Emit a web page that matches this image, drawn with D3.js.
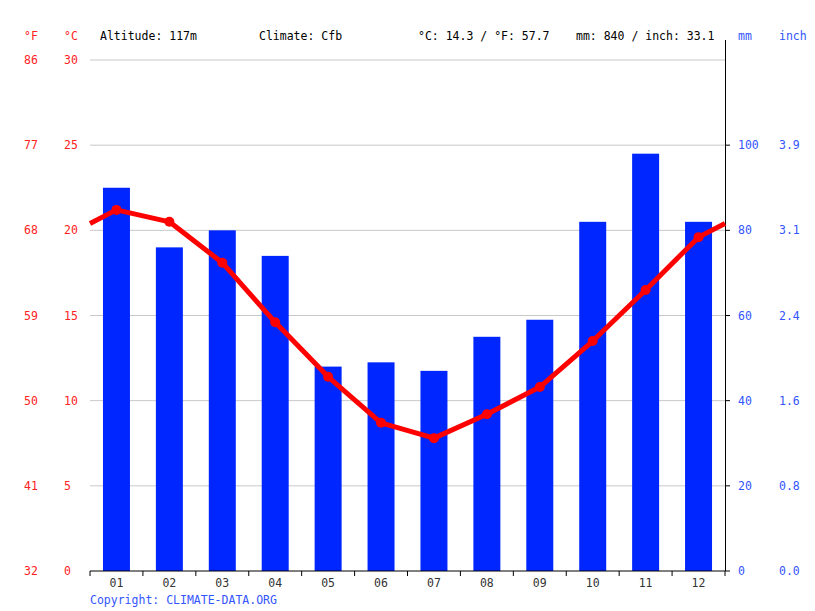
<!DOCTYPE html>
<html><head><meta charset="utf-8">
<script src="https://cdn.jsdelivr.net/npm/d3@7"></script>
<style>body{margin:0;background:#fff}svg{display:block}text{font-family:"DejaVu Sans Mono",monospace;font-size:11.5px}</style>
</head><body><svg id="c" width="815" height="611"></svg>
<script>
const months = ["01","02","03","04","05","06","07","08","09","10","11","12"];
const precipMM = [90,76,80,74,48,49,47,55,59,82,98,82];
const tempC = [21.2,20.5,18.1,14.6,11.4,8.7,7.8,9.2,10.8,13.5,16.5,19.6];
const tempTicksC = [0,5,10,15,20,25,30];
const tempTicksF = ["32","41","50","59","68","77","86"];
const precipTicks = [0,20,40,60,80,100];
const inchTicks = ["0.0","0.8","1.6","2.4","3.1","3.9"];

const svg = d3.select("#c");
const L=90,R=725,T=60,B=571;
const x = d3.scaleBand().domain(months).range([L,R]).paddingInner(0.49).paddingOuter(0.245);
const xc = d => x(d)+x.bandwidth()/2;
const yT = d3.scaleLinear().domain([0,30]).range([B,T]);
const yP = d3.scaleLinear().domain([0,120]).range([B,T]);

// grid
svg.append("g").selectAll("line").data(tempTicksC.slice(1)).join("line")
 .attr("x1",L).attr("x2",R).attr("y1",d=>yT(d)).attr("y2",d=>yT(d))
 .attr("stroke","#c8c8c8").attr("stroke-width",1);

// bars
svg.append("g").selectAll("rect").data(precipMM).join("rect")
 .attr("x",(d,i)=>x(months[i])).attr("width",x.bandwidth())
 .attr("y",d=>yP(d)).attr("height",d=>B-yP(d)).attr("fill","#0026ff");

// bottom axis
const xa = svg.append("g").attr("transform",`translate(0,${B})`);
xa.append("line").attr("x1",L).attr("x2",R).attr("stroke","#000");
const step=(R-L)/12;
xa.selectAll(".tk").data(d3.range(13)).join("line").attr("class","tk")
 .attr("x1",i=>L+i*step).attr("x2",i=>L+i*step).attr("y1",0).attr("y2",5).attr("stroke","#000");
xa.selectAll("text").data(months).join("text").attr("x",xc).attr("y",16)
 .attr("text-anchor","middle").attr("fill","#333").text(d=>d);

// right axis
const ra = svg.append("g");
ra.append("line").attr("x1",R+0.5).attr("x2",R+0.5).attr("y1",40).attr("y2",B).attr("stroke","#000");
ra.selectAll("line.t").data(precipTicks).join("line").attr("class","t")
 .attr("x1",R).attr("x2",R+5).attr("y1",d=>yP(d)).attr("y2",d=>yP(d)).attr("stroke","#000");
ra.selectAll("text.mm").data(precipTicks).join("text").attr("class","mm")
 .attr("x",738).attr("y",d=>yP(d)+4).attr("fill","#3355ff").text(d=>d);
ra.selectAll("text.in").data(inchTicks).join("text").attr("class","in")
 .attr("x",779).attr("y",(d,i)=>yP(precipTicks[i])+4).attr("fill","#3355ff").text(d=>d);

// left labels
const la = svg.append("g");
la.selectAll("text.c").data(tempTicksC).join("text").attr("class","c")
 .attr("x",64).attr("y",d=>yT(d)+4).attr("fill","#ff2222").text(d=>d);
la.selectAll("text.f").data(tempTicksF).join("text").attr("class","f")
 .attr("x",24).attr("y",(d,i)=>yT(tempTicksC[i])+4).attr("fill","#ff2222").text(d=>d);

// temperature line with wrap-around ends
const edge = (tempC[0]+tempC[11])/2;
const pts = [[L,yT(edge)]].concat(tempC.map((t,i)=>[xc(months[i]),yT(t)])).concat([[R,yT(edge)]]);
svg.append("path").attr("d",d3.line()(pts)).attr("fill","none").attr("stroke","#ff0000")
 .attr("stroke-width",5).attr("stroke-linejoin","round");
svg.append("g").selectAll("circle").data(tempC).join("circle")
 .attr("cx",(d,i)=>xc(months[i])).attr("cy",d=>yT(d)).attr("r",5).attr("fill","#ff0000");

// header
const hdr = [["°F",24,"#ff2222"],["°C",64,"#ff2222"],["Altitude: 117m",100,"#000"],["Climate: Cfb",259,"#000"],
 ["°C: 14.3 / °F: 57.7",418,"#000"],["mm: 840 / inch: 33.1",576,"#000"],["mm",738,"#3355ff"],["inch",779,"#3355ff"]];
svg.append("g").selectAll("text").data(hdr).join("text").attr("x",d=>d[1]).attr("y",40)
 .attr("fill",d=>d[2]).text(d=>d[0]);

svg.append("text").attr("x",90).attr("y",604).attr("fill","#3355ff").text("Copyright: CLIMATE-DATA.ORG");
</script></body></html>
